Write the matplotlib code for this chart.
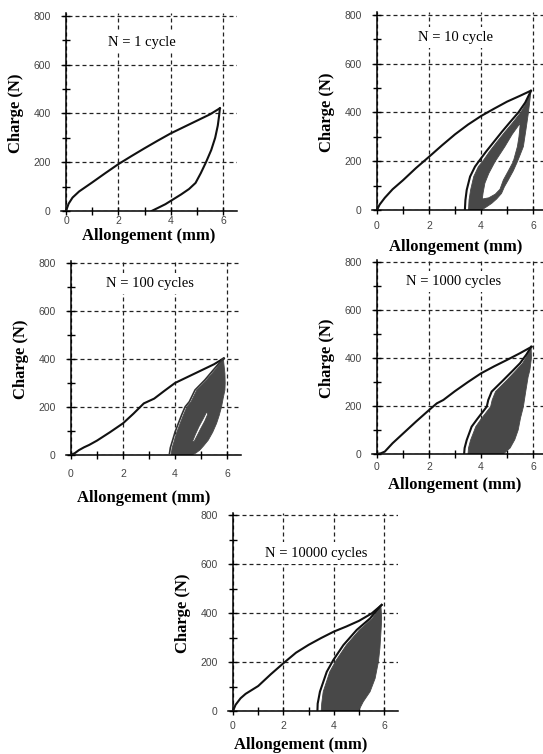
import matplotlib
matplotlib.use("Agg")
import matplotlib.pyplot as plt
from matplotlib.path import Path
from matplotlib.patches import PathPatch

plt.rcParams["font.family"] = ["Liberation Sans", "DejaVu Sans"]

# ---- data (allongement in mm, charge in N) ----
N1_LOAD_X = [0, 0.1, 0.25, 0.5, 1.0, 1.5, 2.0, 2.5, 3.0, 3.5, 4.0, 4.5, 5.0, 5.5, 5.88]
N1_LOAD_Y = [0, 30, 55, 80, 117, 155, 192, 225, 257, 288, 318, 344, 370, 396, 421]
N1_UNLOAD_X = [5.88, 5.85, 5.8, 5.7, 5.55, 5.35, 5.15, 4.95, 4.7, 4.4, 4.1, 3.8, 3.5, 3.27]
N1_UNLOAD_Y = [421, 390, 350, 300, 250, 200, 155, 115, 90, 68, 48, 28, 12, 0]

N10_LOAD_X = [0, 0.1, 0.3, 0.6, 1.0, 1.5, 2.0, 2.5, 3.0, 3.5, 4.0, 4.5, 5.0, 5.5, 5.92]
N10_LOAD_Y = [0, 22, 50, 85, 122, 172, 218, 265, 310, 350, 385, 415, 444, 468, 489]
N10_RELOAD_X = [3.38, 3.40, 3.45, 3.58, 3.77, 3.92, 4.2, 4.5, 4.8, 5.1, 5.44, 5.7, 5.92]
N10_RELOAD_Y = [0, 40, 82, 137, 178, 200, 240, 280, 320, 358, 400, 440, 488]
N10_BAND_L_X = [3.52, 3.54, 3.6, 3.72, 3.9, 4.07, 4.33, 4.62, 4.92, 5.22, 5.53, 5.75, 5.92]
N10_BAND_L_Y = [0, 40, 82, 137, 178, 200, 240, 280, 320, 358, 400, 440, 485]
N10_BAND_R_X = [5.92, 5.87, 5.82, 5.73, 5.63, 5.52, 5.40, 5.24, 5.05, 4.9, 4.79, 4.6, 4.41, 4.2, 4.02]
N10_BAND_R_Y = [485, 440, 396, 330, 260, 230, 198, 160, 123, 95, 68, 45, 27, 12, 0]
N10_HOLE_X = [4.05, 4.08, 4.15, 4.3, 4.54, 4.92, 5.2, 5.5, 5.5, 5.46, 5.40, 5.24, 5.05, 4.86, 4.73, 4.55, 4.3]
N10_HOLE_Y = [45, 70, 110, 150, 198, 260, 310, 355, 342, 300, 260, 198, 160, 123, 85, 65, 50]

N100_LOAD_X = [0, 0.15, 0.3, 0.5, 0.7, 1.0, 1.5, 2.0, 2.4, 2.8, 3.2, 3.6, 4.0, 4.5, 5.0, 5.5, 5.88]
N100_LOAD_Y = [0, 8, 20, 32, 42, 60, 95, 132, 172, 215, 235, 268, 300, 326, 352, 378, 403]
N100_RELOAD_X = [3.78, 3.82, 3.91, 4.0, 4.13, 4.26, 4.39, 4.55, 4.77, 5.15, 5.47, 5.86]
N100_RELOAD_Y = [0, 30, 62, 95, 132, 168, 201, 222, 271, 313, 354, 403]
N100_BAND_L_X = [3.85, 3.89, 3.98, 4.07, 4.2, 4.33, 4.46, 4.62, 4.84, 5.22, 5.54, 5.86]
N100_BAND_L_Y = [0, 30, 62, 95, 132, 168, 201, 222, 271, 313, 354, 400]
N100_BAND_R_X = [5.86, 5.92, 5.93, 5.92, 5.85, 5.79, 5.7, 5.6, 5.45, 5.28, 5.1, 4.96, 4.8, 4.64]
N100_BAND_R_Y = [400, 340, 300, 271, 235, 201, 165, 132, 95, 62, 38, 21, 8, 0]
N100_HOLE_X = [4.68, 4.78, 4.92, 5.08, 5.22, 5.26, 5.14, 4.98, 4.84, 4.73]
N100_HOLE_Y = [58, 85, 118, 150, 180, 170, 140, 108, 78, 55]

N1000_LOAD_X = [0, 0.15, 0.3, 0.6, 1.0, 1.5, 2.0, 2.3, 2.55, 3.0, 3.5, 4.0, 4.5, 5.0, 5.5, 5.95]
N1000_LOAD_Y = [0, 3, 10, 45, 85, 135, 183, 211, 225, 262, 300, 336, 365, 392, 420, 447]
N1000_RELOAD_X = [3.35, 3.37, 3.45, 3.64, 3.85, 4.02, 4.22, 4.28, 4.41, 4.86, 5.2, 5.5, 5.75, 5.93]
N1000_RELOAD_Y = [0, 25, 58, 114, 145, 169, 197, 225, 260, 308, 345, 378, 415, 447]
N1000_BAND_L_X = [3.5, 3.52, 3.6, 3.8, 4.0, 4.17, 4.37, 4.43, 4.56, 5.0, 5.32, 5.6, 5.8, 5.93]
N1000_BAND_L_Y = [0, 25, 58, 114, 145, 169, 197, 225, 260, 308, 345, 378, 415, 442]
N1000_BAND_R_X = [5.93, 5.94, 5.88, 5.81, 5.72, 5.63, 5.52, 5.43, 5.3, 5.12, 4.86]
N1000_BAND_R_Y = [442, 400, 350, 320, 260, 197, 150, 100, 60, 25, 0]

N10000_LOAD_X = [0, 0.1, 0.3, 0.5, 1.0, 1.5, 2.0, 2.5, 3.0, 3.5, 4.0, 4.5, 5.0, 5.5, 5.9]
N10000_LOAD_Y = [0, 25, 52, 70, 102, 150, 195, 238, 270, 298, 324, 345, 368, 398, 433]
N10000_RELOAD_X = [3.35, 3.36, 3.45, 3.72, 3.98, 4.38, 4.91, 5.44, 5.83, 5.9]
N10000_RELOAD_Y = [0, 30, 79, 160, 208, 269, 331, 378, 426, 433]
N10000_BAND_L_X = [3.5, 3.52, 3.58, 3.84, 4.1, 4.5, 5.02, 5.53, 5.87]
N10000_BAND_L_Y = [0, 30, 79, 160, 208, 269, 331, 378, 428]
N10000_BAND_R_X = [5.87, 5.9, 5.88, 5.83, 5.77, 5.64, 5.44, 5.17, 4.98]
N10000_BAND_R_Y = [428, 380, 337, 256, 201, 133, 79, 38, 0]

TITLES = ["N = 1 cycle", "N = 10 cycle", "N = 100 cycles", "N = 1000 cycles", "N = 10000 cycles"]
X_MAJOR = [0, 2, 4, 6]
X_MINOR = [1, 3, 5]
Y_MAJOR = [0, 200, 400, 600, 800]
Y_MINOR = [100, 300, 500, 700]

# ---- layout (pixels) ----
W, H = 543, 754
XLIM = (-0.2, 6.55)
YLIM = (0, 810)
BAND_COLOR = "#484848"
SERIF = ["Liberation Serif", "DejaVu Serif"]

fig = plt.figure(figsize=(W / 100, H / 100), dpi=100)


def make_panel(ox, oy, sx, sy, title, title_xy, xlab_x, xlab_off, xpad):
    """ox, oy: pixel of data origin (from top-left); sx, sy: px per unit."""
    left = ox + XLIM[0] * sx
    w = (XLIM[1] - XLIM[0]) * sx
    h = (YLIM[1] - YLIM[0]) * sy
    ax = fig.add_axes([left / W, (H - oy) / H, w / W, h / H])
    ax.set_xlim(*XLIM)
    ax.set_ylim(*YLIM)
    ax.spines["left"].set_position(("data", 0))
    ax.spines["top"].set_visible(False)
    ax.spines["right"].set_visible(False)
    for s in ("left", "bottom"):
        ax.spines[s].set_linewidth(1.1)
    ax.set_xticks(X_MAJOR)
    ax.set_xticks(X_MINOR, minor=True)
    ax.set_yticks(Y_MAJOR)
    ax.set_yticks(Y_MINOR, minor=True)
    ax.tick_params(which="both", direction="inout", length=6, width=1.0)
    ax.tick_params(axis="both", labelsize=7.5, labelcolor="#444")
    ax.tick_params(axis="y", pad=8)
    ax.tick_params(axis="x", pad=xpad)
    ax.set_axisbelow(True)
    ax.grid(True, which="major", color="#222", linestyle=(0, (3.2, 2.4)), linewidth=0.9)
    ax.text(title_xy[0], title_xy[1], title, family=SERIF, fontsize=10.5,
            ha="center", va="center", zorder=5,
            bbox=dict(facecolor="white", edgecolor="none", pad=3))
    ax.text((xlab_x - XLIM[0]) / (XLIM[1] - XLIM[0]), -xlab_off / h, "Allongement (mm)",
            transform=ax.transAxes, family=SERIF, fontweight="bold", fontsize=12,
            ha="center", va="center", clip_on=False)
    ax.text((-XLIM[0] * sx - 50) / w, 400 / YLIM[1], "Charge (N)", rotation=90,
            transform=ax.transAxes, family=SERIF, fontweight="bold", fontsize=12,
            ha="center", va="center", clip_on=False)
    return ax


def draw_band(ax, lx, ly, rx, ry, hx=None, hy=None):
    verts = list(zip(lx, ly)) + list(zip(rx, ry))
    codes = [Path.MOVETO] + [Path.LINETO] * (len(verts) - 1)
    verts.append(verts[0])
    codes.append(Path.CLOSEPOLY)
    if hx is not None:
        hole = list(zip(hx, hy))[::-1]
        verts += hole + [hole[0]]
        codes += [Path.MOVETO] + [Path.LINETO] * (len(hole) - 1) + [Path.CLOSEPOLY]
    ax.add_patch(PathPatch(Path(verts, codes), facecolor=BAND_COLOR,
                           edgecolor=BAND_COLOR, linewidth=0.6, zorder=2))


LINE = dict(color="#111", linewidth=1.5, zorder=3, solid_joinstyle="round")

# N = 1
ax1 = make_panel(66, 211, 26.17, 0.244, TITLES[0], (2.9, 690), 3.17, 25, 0.5)
ax1.plot(N1_LOAD_X, N1_LOAD_Y, **LINE)
ax1.plot(N1_UNLOAD_X, N1_UNLOAD_Y, **LINE)

# N = 10
ax2 = make_panel(377, 210, 26.0, 0.244, TITLES[1], (3.0, 708), 3.04, 37, 5)
draw_band(ax2, N10_BAND_L_X, N10_BAND_L_Y, N10_BAND_R_X, N10_BAND_R_Y, N10_HOLE_X, N10_HOLE_Y)
ax2.plot(N10_LOAD_X, N10_LOAD_Y, **LINE)
ax2.plot(N10_RELOAD_X, N10_RELOAD_Y, **LINE)

# N = 100
ax3 = make_panel(71, 455, 26.0, 0.24, TITLES[2], (3.04, 715), 2.8, 43, 7)
draw_band(ax3, N100_BAND_L_X, N100_BAND_L_Y, N100_BAND_R_X, N100_BAND_R_Y, N100_HOLE_X, N100_HOLE_Y)
ax3.plot(N100_LOAD_X, N100_LOAD_Y, **LINE)
ax3.plot(N100_RELOAD_X, N100_RELOAD_Y, color="#333", linewidth=1.2, zorder=3)

# N = 1000
ax4 = make_panel(377, 454, 26.0, 0.24, TITLES[3], (2.94, 718), 3.0, 31, 3)
draw_band(ax4, N1000_BAND_L_X, N1000_BAND_L_Y, N1000_BAND_R_X, N1000_BAND_R_Y)
ax4.plot(N1000_LOAD_X, N1000_LOAD_Y, **LINE)
ax4.plot(N1000_RELOAD_X, N1000_RELOAD_Y, **LINE)

# N = 10000
ax5 = make_panel(233, 711, 25.2, 0.245, TITLES[4], (3.32, 644), 2.7, 34, 4)
draw_band(ax5, N10000_BAND_L_X, N10000_BAND_L_Y, N10000_BAND_R_X, N10000_BAND_R_Y)
ax5.plot(N10000_LOAD_X, N10000_LOAD_Y, **LINE)
ax5.plot(N10000_RELOAD_X, N10000_RELOAD_Y, **LINE)

fig.savefig("out.png", dpi=100)
